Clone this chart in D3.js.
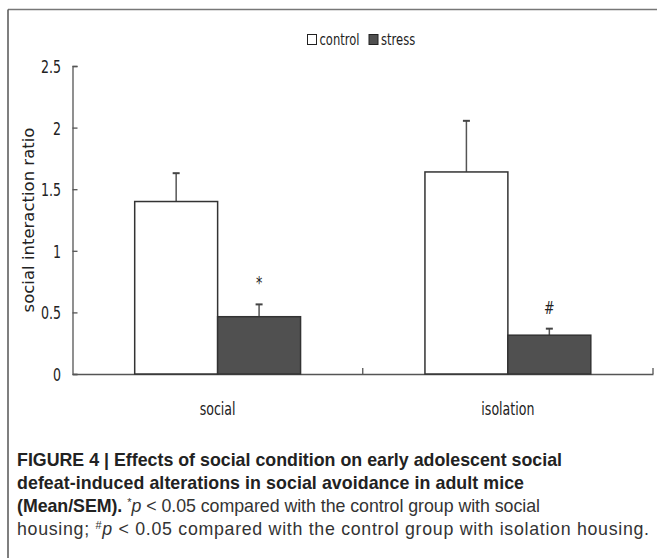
<!DOCTYPE html>
<html lang="en-US">
<head>
<meta charset="utf-8">
<title>Social interaction ratio</title>
<script src="https://d3js.org/d3.v7.min.js"></script>
<style>
  body { margin: 0; background: #fff; }
  .caption { font-family: "Liberation Sans", Arial, sans-serif; fill: #222; }
</style>
</head>
<body>
<svg id="chart" width="657" height="558"></svg>
<script>
// data
var housing = ["social", "isolation"];
var groups = ["control", "stress"];
var meanControl = [1.40, 1.64];
var meanStress = [0.465, 0.315];
var semControl = [0.23, 0.415];
var semStress = [0.10, 0.053];
var marks = ["", "*", "", "#"];   // control-social, stress-social, control-isolation, stress-isolation
var yTicks = [0, 0.5, 1, 1.5, 2, 2.5];
var groupFill = ["#ffffff", "#505050"];
var captionLines = [
  [{t: "FIGURE 4 | Effects of social condition on early adolescent social", b: true}],
  [{t: "defeat-induced alterations in social avoidance in adult mice", b: true}],
  [{t: "(Mean/SEM). ", b: true}, {t: "*", sup: true}, {t: "p", i: true}, {t: " < 0.05 compared with the control group with social"}],
  [{t: "housing; "}, {t: "#", sup: true}, {t: "p", i: true}, {t: " < 0.05 compared with the control group with isolation housing."}]
];
var captionWidths = [545, 507, 523, 632];   // line lengths in the figure

var rows = [];
housing.forEach(function(h, i) {
  rows.push({house: h, group: "control", mean: meanControl[i], sem: semControl[i], mark: marks[i * 2]});
  rows.push({house: h, group: "stress", mean: meanStress[i], sem: semStress[i], mark: marks[i * 2 + 1]});
});

var chartFont = "'DejaVu Sans', Verdana, sans-serif";
var squeeze = 0.7;   // chart text in the original is horizontally condensed

// put a text at (x, y) and squeeze it horizontally around x
function narrowText(sel, x, yy, size, anchor, str) {
  return sel.append("text")
    .attr("transform", "translate(" + x + "," + yy + ") scale(" + squeeze + ",1)")
    .attr("text-anchor", anchor)
    .attr("font-family", chartFont)
    .attr("font-size", size)
    .attr("fill", "#222")
    .text(str);
}

var svg = d3.select("#chart");

// frame around the figure (top and left edges only visible)
svg.append("line").attr("x1", 8).attr("x2", 657).attr("y1", 9.5).attr("y2", 9.5)
   .attr("stroke", "#777").attr("stroke-width", 1.5);
svg.append("line").attr("x1", 8).attr("x2", 8).attr("y1", 9.5).attr("y2", 558)
   .attr("stroke", "#555").attr("stroke-width", 1.5);

var x0 = d3.scaleBand().domain(housing).range([72.5, 653]).paddingInner(0).paddingOuter(0);
var x1 = d3.scaleBand().domain(groups).range([0, x0.bandwidth()]).paddingInner(0).paddingOuter(0.75);
var y = d3.scaleLinear().domain([0, 2.5]).range([374, 66]);
var color = d3.scaleOrdinal().domain(groups).range(groupFill);

// y axis, ticks pointing inwards
var yAxis = svg.append("g")
  .attr("transform", "translate(72.5,0)")
  .call(d3.axisLeft(y).tickValues(yTicks).tickSize(-5).tickFormat(d3.format("")));
yAxis.select(".domain").attr("stroke", "#555").attr("stroke-width", 1.3);
yAxis.selectAll(".tick line").attr("stroke", "#555").attr("stroke-width", 1.3);
yAxis.selectAll(".tick text").remove();
yAxis.selectAll(".tick").each(function(d) {
  narrowText(d3.select(this), -11.5, 6.5, 18, "end", d3.format("")(d));
});

// x axis with category labels
var xAxis = svg.append("g")
  .attr("transform", "translate(0," + y(0) + ")")
  .call(d3.axisBottom(x0).tickSize(0));
xAxis.select(".domain").attr("stroke", "#555").attr("stroke-width", 1.3);
xAxis.selectAll(".tick text").remove();
xAxis.selectAll(".tick").each(function(d) {
  narrowText(d3.select(this), 0, 41, 18, "middle", d);
});

// category boundary ticks (inwards)
var bounds = housing.slice(1).map(function(h) { return x0(h); }).concat([x0.range()[1]]);
svg.append("g").selectAll("line").data(bounds).join("line")
  .attr("x1", function(d) { return d; }).attr("x2", function(d) { return d; })
  .attr("y1", y(0)).attr("y2", y(0) - 6)
  .attr("stroke", "#555").attr("stroke-width", 1.3);

// bars
var bar = svg.append("g").selectAll("g").data(rows).join("g")
  .attr("transform", function(d) { return "translate(" + (x0(d.house) + x1(d.group)) + ",0)"; });

// error bars (upper whisker only)
bar.append("line")
  .attr("x1", x1.bandwidth() / 2).attr("x2", x1.bandwidth() / 2)
  .attr("y1", function(d) { return y(d.mean); })
  .attr("y2", function(d) { return y(d.mean + d.sem); })
  .attr("stroke", "#555").attr("stroke-width", 1.5);
bar.append("line")
  .attr("x1", x1.bandwidth() / 2 - 3.5).attr("x2", x1.bandwidth() / 2 + 3.5)
  .attr("y1", function(d) { return y(d.mean + d.sem); })
  .attr("y2", function(d) { return y(d.mean + d.sem); })
  .attr("stroke", "#444").attr("stroke-width", 2);

bar.append("rect")
  .attr("x", 0)
  .attr("y", function(d) { return y(d.mean); })
  .attr("width", x1.bandwidth())
  .attr("height", function(d) { return y(0) - y(d.mean); })
  .attr("fill", function(d) { return color(d.group); })
  .attr("stroke", "#333").attr("stroke-width", 1.5);

bar.each(function(d) {
  if (d.mark) narrowText(d3.select(this), x1.bandwidth() / 2, y(d.mean + d.sem) - 15, 18, "middle", d.mark);
});

// y label
svg.append("text")
  .attr("transform", "translate(33.5," + y(1.25) + ") rotate(-90)")
  .attr("text-anchor", "middle")
  .attr("font-family", chartFont)
  .attr("font-size", 16.5).attr("fill", "#222")
  .text("social interaction ratio");

// legend
var legend = svg.append("g").attr("transform", "translate(307,45)");
var legItems = [{g: groups[0], x: 0}, {g: groups[1], x: 61.5}];
legItems.forEach(function(it) {
  legend.append("rect").attr("x", it.x + 0.5).attr("y", -10.5).attr("width", 9).attr("height", 10)
    .attr("fill", color(it.g)).attr("stroke", "#222").attr("stroke-width", 1);
  narrowText(legend, it.x + 12.5, 0, 16.5, "start", it.g);
});

// caption, each line stretched to its length in the figure
var cap = svg.append("g").attr("class", "caption");
captionLines.forEach(function(line, i) {
  var t = cap.append("text").attr("x", 17).attr("y", 466 + i * 23).attr("font-size", 17.8)
    .attr("textLength", captionWidths[i]).attr("lengthAdjust", "spacing");
  line.forEach(function(s) {
    var sp = t.append("tspan").text(s.t);
    if (s.b) sp.attr("font-weight", "bold");
    else sp.attr("fill", "#333");
    if (s.i) sp.attr("font-style", "italic");
    if (s.sup) sp.attr("font-size", 11).attr("dy", -6);
    if (s.i) sp.attr("dy", 6);
  });
});
</script>
</body>
</html>
